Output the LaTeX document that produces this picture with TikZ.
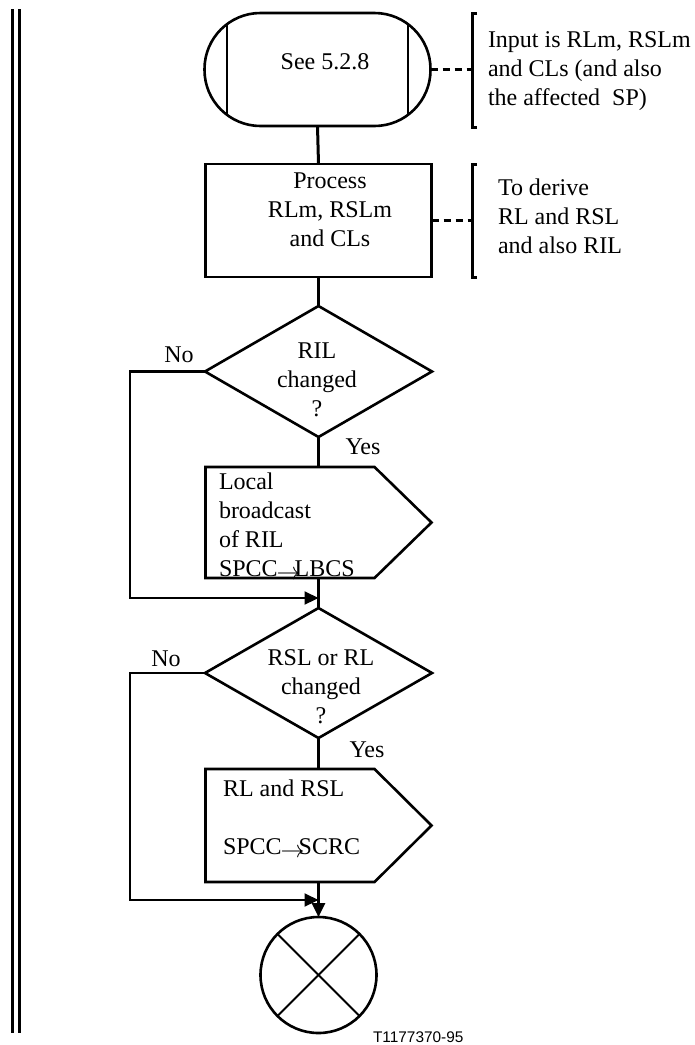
\documentclass[tikz,border=0pt]{standalone}
\usepackage{fontspec}
\setmainfont{Liberation Serif}
\newfontfamily\labelsans{Liberation Sans}
\usetikzlibrary{shapes.geometric,arrows.meta,calc}
\newcommand\sendarrow{\raisebox{-1.5pt}{$\rightarrow$}}
\begin{document}
\begin{tikzpicture}[x=0.5pt,y=-0.5pt,
  every node/.style={font=\fontsize{12}{14.5}\selectfont, inner sep=0pt, outer sep=0pt},
  shapeline/.style={draw, line width=1.3pt},
  flow/.style={line width=1.5pt},
  noline/.style={line width=1.1pt},
  thinline/.style={line width=1pt},
  arr/.style={-{Triangle[length=7pt,width=6.5pt]}},
  dashconn/.style={line width=1.4pt, dash pattern=on 3.5pt off 2.5pt},
  bracketline/.style={line width=1.5pt},
  txt/.style={align=left, anchor=west},
  ctxt/.style={align=center},
]
\useasboundingbox (0,0) rectangle (695,1045);

% margin double line
\draw[line width=1.5pt] (12.5,9) -- (12.5,1033);
\draw[line width=1.5pt] (19,9) -- (19,1033);

% start terminal
\node[shapeline, rounded corners=28pt, minimum width=113pt, minimum height=56.5pt] (start) at (317.5,69.5) {};
\draw[shapeline] (227,25) -- (227,114);
\draw[shapeline] (408,25) -- (408,114);
\node (see) at (325,62) {See 5.2.8};

% process
\node[shapeline, minimum width=113pt, minimum height=56.5pt] (proc) at (318.5,220.5) {};
\node[ctxt] (proctext) at (330,210) {Process\\RLm, RSLm\\and CLs};

% annotations
\coordinate (b1) at (472,69.5);
\coordinate (b2) at (472,220.5);
\draw[bracketline] (477,13) -- (472,13) -- (472,127) -- (477,127);
\draw[bracketline] (477,164) -- (472,164) -- (472,277) -- (477,277);
\draw[dashconn] (start.east) -- (b1);
\draw[dashconn] (proc.east) -- (b2);
\node[txt] (note1) at (488,71) {Input is RLm, RSLm\\and CLs (and also\\the affected\ \ SP)};
\node[txt] (note2) at (498,216) {To derive\\RL and RSL\\and also RIL};

% decision 1
\node[shapeline, diamond, minimum width=113.5pt, minimum height=65.5pt] (d1) at (318.5,371.5) {};
\node[ctxt] (d1text) at (317,380) {RIL\\changed\\?};
\node (no1) at (179,355) {No};
\node (yes1) at (363,447) {Yes};

% output 1
\node[minimum width=113pt, minimum height=55.5pt] (out1) at (318.5,522.5) {};
\draw[shapeline] (out1.north west) -- ($(out1.north west)+(169,0)$) -- (out1.east) -- ($(out1.south west)+(169,0)$) -- (out1.south west) -- cycle;
\node[txt] (out1text) at (219,526) {Local\\broadcast\\of RIL\\SPCC\kern-0.5pt\sendarrow\kern-3pt LBCS};

\coordinate (j1) at (318.5,598);
\coordinate (n1) at (130,371.5);

% decision 2
\node[shapeline, diamond, minimum width=113.5pt, minimum height=65pt] (d2) at (318.5,673) {};
\node[ctxt] (d2text) at (321,687) {RSL or RL\\changed\\?};
\node (no2) at (166,659) {No};
\node (yes2) at (367,750) {Yes};

% output 2
\node[minimum width=113pt, minimum height=56.5pt] (out2) at (318.5,825.5) {};
\draw[shapeline] (out2.north west) -- ($(out2.north west)+(169,0)$) -- (out2.east) -- ($(out2.south west)+(169,0)$) -- (out2.south west) -- cycle;
\node[txt] (out2text) at (223,819) {RL and RSL\\[14.5pt]SPCC\kern-0.5pt\sendarrow\kern-3pt SCRC};

\coordinate (j2) at (318.5,900);
\coordinate (n2) at (130,673);

% end
\node[shapeline, circle, minimum size=58pt] (end) at (318.5,975) {};
\draw[thinline] (end.north west) -- (end.south east);
\draw[thinline] (end.north east) -- (end.south west);

\node[font=\labelsans\fontsize{7.7}{9}\selectfont, anchor=west] (tag) at (373,1037) {T1177370-95};

% connectors
\draw[flow] (start.south) -- (proc.north);
\draw[flow] (proc.south) -- (d1.north);
\draw[flow] (d1.south) -- (out1.north);
\draw[flow] (out1.south) -- (d2.north);
\draw[flow] (d2.south) -- (out2.north);
\draw[flow, arr] (out2.south) -- (end.north);
\draw[noline, arr] (d1.west) -- (n1) |- (j1);
\draw[noline, arr] (d2.west) -- (n2) |- (j2);
\end{tikzpicture}
\end{document}
